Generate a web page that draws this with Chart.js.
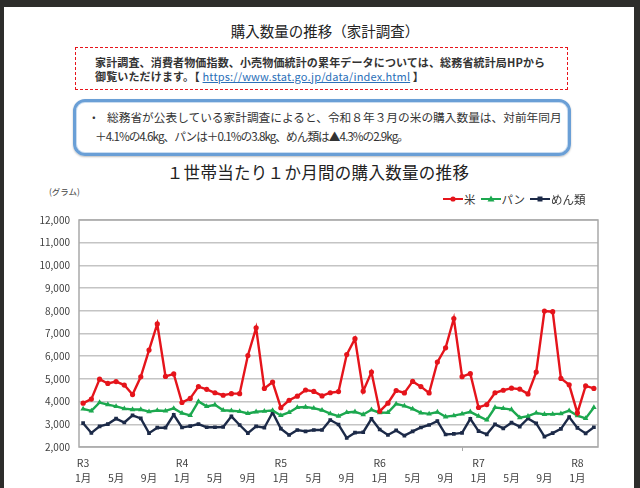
<!DOCTYPE html>
<html lang="ja">
<head>
  <meta charset="UTF-8" />
  <title>購入数量の推移（家計調査）</title>
  <script src="https://cdn.jsdelivr.net/npm/chart.js@4.4.1/dist/chart.umd.min.js"></script>
  <style>
    html, body {
      margin: 0;
      padding: 0;
      background-color: #2d2d2b;
      width: 640px;
      height: 488px;
      overflow: hidden;
      font-family: 'Noto Sans CJK JP', sans-serif;
      color: #222;
    }
    #page {
      position: absolute;
      left: 4px;
      top: 7px;
      width: 630px;
      height: 481px;
      background: #fff;
    }
    .abs { position: absolute; white-space: nowrap; }
    #mainTitle {
      left: 0; width: 650px; top: 21px;
      text-align: center;
      font-size: 14.5px;
      line-height: 20px;
    }
    #noteBox {
      left: 75px; top: 47px; width: 491px; height: 41px;
      border: 1px dashed #e8141b;
    }
    .noteLine {
      font-size: 11px;
      font-weight: 600;
      line-height: 14px;
      color: #333;
      letter-spacing: 0.15px;
    }
    .noteLine a { color: #2a6fb8; font-weight: normal; }
    #summaryBox {
      left: 73px; top: 99px; width: 492px; height: 51px;
      border: 3px solid #6a9fd6;
      border-radius: 12px;
      box-shadow: inset 0 0 0 1px #c9dcf0, 0 1px 2px rgba(0,0,0,0.25);
    }
    .sumLine {
      font-size: 11.7px;
      line-height: 18px;
      color: #333;
    }
    #chartTitle {
      left: 0; width: 636px; top: 161px;
      text-align: center;
      font-size: 16.5px;
      line-height: 22px;
      letter-spacing: 0.3px;
      color: #222;
    }
    #unit {
      left: 49px; top: 185px;
      font-size: 8.5px;
      color: #444;
    }
    #legend {
      left: 443px; top: 191px;
      font-size: 11.5px;
      line-height: 16px;
      color: #333;
      display: flex;
      align-items: center;
    }
    .legItem { display: flex; align-items: center; margin-right: 5px; }
    .legItem canvas { margin-right: 1px; }
    #chart {
      position: absolute;
      left: 0;
      top: 205px;
    }
  </style>
</head>
<body>
  <div id="page"></div>
  <div class="abs" id="mainTitle">購入数量の推移（家計調査）</div>
  <div class="abs" id="noteBox"></div>
  <div class="abs noteLine" style="left:95px; top:55px;">家計調査、消費者物価指数、小売物価統計の累年データについては、総務省統計局HPから</div>
  <div class="abs noteLine" style="left:95px; top:69px;">御覧いただけます。【 <a href="#">https://www.stat.go.jp/data/index.html</a> 】</div>
  <div class="abs" id="summaryBox"></div>
  <div class="abs sumLine" style="left:88px; top:108px;">・</div>
  <div class="abs sumLine" style="left:107px; top:108px;">総務省が公表している家計調査によると、令和８年３月の米の購入数量は、対前年同月</div>
  <div class="abs sumLine" style="left:95px; top:127px; letter-spacing:-1px;">＋4.1%の4.6kg、パンは＋0.1%の3.8kg、めん類は▲4.3%の2.9kg。</div>
  <div class="abs" id="chartTitle">１世帯当たり１か月間の購入数量の推移</div>
  <div class="abs" id="unit">(グラム)</div>
  <div class="abs" id="legend"></div>
  <canvas id="chart" width="640" height="283"></canvas>

  <script>
    // 令和3年1月〜令和8年3月（月次）
    const years = ['R3', 'R4', 'R5', 'R6', 'R7', 'R8'];
    const monthNames = ['1月', '2月', '3月', '4月', '5月', '6月', '7月', '8月', '9月', '10月', '11月', '12月'];
    const shownMonths = ['1月', '5月', '9月'];

    const categories = [];
    years.forEach((y, yi) => {
      const n = yi === years.length - 1 ? 3 : 12;
      for (let m = 0; m < n; m++) categories.push(y + ' ' + monthNames[m]);
    });

    const seriesNames = ['米', 'パン', 'めん類'];
    const rice = [
      3930, 4110, 4990, 4800, 4880, 4730, 4310, 5090, 6270, 7420, 5110, 5220,
      3960, 4140, 4660, 4540, 4390, 4280, 4350, 4350, 6030, 7250, 4580, 4860,
      3730, 4060, 4240, 4510, 4450, 4250, 4390, 4440, 6070, 6770, 4460, 5300,
      3570, 3930, 4490, 4380, 4890, 4660, 4380, 5740, 6370, 7660, 5100, 5230,
      3740, 3870, 4390, 4500, 4590, 4550, 4340, 5300, 7990, 7960, 5020, 4740,
      3500, 4690, 4580
    ];
    const bread = [
      3680, 3590, 3960, 3870, 3790, 3690, 3650, 3650, 3560, 3610, 3590, 3700,
      3490, 3390, 4010, 3790, 3860, 3620, 3600, 3570, 3480, 3550, 3580, 3610,
      3390, 3520, 3740, 3760, 3710, 3620, 3470, 3360, 3520, 3550, 3430, 3640,
      3510, 3520, 3900, 3810, 3680, 3500, 3460, 3540, 3330, 3380, 3460, 3550,
      3360, 3190, 3740, 3700, 3650, 3290, 3360, 3500, 3440, 3450, 3470, 3600,
      3380, 3260, 3740
    ];
    const noodles = [
      3050, 2620, 2910, 3010, 3250, 3080, 3390, 3260, 2610, 2850, 2850, 3420,
      2860, 2920, 3010, 2870, 2870, 2880, 3350, 2970, 2610, 2910, 2850, 3520,
      2810, 2530, 2750, 2690, 2750, 2750, 3190, 2990, 2400, 2630, 2650, 3240,
      2770, 2530, 2730, 2500, 2690, 2860, 2970, 3140, 2550, 2580, 2620, 3240,
      2700, 2560, 3000, 2820, 3070, 2900, 3260, 3040, 2460, 2610, 2800, 3320,
      2840, 2600, 2870
    ];

    const colors = ['#e5141b', '#1ca84f', '#1c2a48'];
    const markers = ['circle', 'triangle', 'rect'];
    const markerSize = [2.6, 3.2, 2.6];

    // Excel風の凡例（線＋マーカー）
    const legendEl = document.getElementById('legend');
    seriesNames.forEach((name, i) => {
      const item = document.createElement('div');
      item.className = 'legItem';
      const c = document.createElement('canvas');
      c.width = 20; c.height = 8;
      const g = c.getContext('2d');
      g.strokeStyle = colors[i];
      g.fillStyle = colors[i];
      g.lineWidth = 2;
      g.beginPath(); g.moveTo(0, 4); g.lineTo(20, 4); g.stroke();
      g.beginPath();
      if (markers[i] === 'circle') g.arc(10, 4, 2.6, 0, Math.PI * 2);
      else if (markers[i] === 'triangle') { g.moveTo(10, 0.5); g.lineTo(13.5, 6.5); g.lineTo(6.5, 6.5); g.closePath(); }
      else g.rect(7.5, 1.5, 5, 5);
      g.fill();
      item.appendChild(c);
      const t = document.createElement('span');
      t.textContent = name;
      item.appendChild(t);
      legendEl.appendChild(item);
    });

    const framePlugin = {
      id: 'frame',
      afterDraw(chart) {
        const a = chart.chartArea;
        const ctx = chart.ctx;
        ctx.save();
        ctx.strokeStyle = '#a9a9a9';
        ctx.lineWidth = 1.5;
        ctx.strokeRect(a.left, a.top, a.right - a.left, a.bottom - a.top);
        ctx.restore();
      }
    };

    const ds = (label, data, i) => ({
      label: label,
      data: data,
      borderColor: colors[i],
      backgroundColor: colors[i],
      borderWidth: 2.4,
      tension: 0,
      pointStyle: markers[i],
      pointRadius: markerSize[i],
      pointBorderWidth: 0,
      pointHoverRadius: markerSize[i],
    });

    new Chart(document.getElementById('chart').getContext('2d'), {
      type: 'line',
      data: {
        labels: categories,
        datasets: [
          ds(seriesNames[0], rice, 0),
          ds(seriesNames[1], bread, 1),
          ds(seriesNames[2], noodles, 2),
        ]
      },
      options: {
        responsive: false,
        animation: false,
        devicePixelRatio: 1,
        layout: { padding: { top: 7, right: 42, left: 0, bottom: 0 } },
        plugins: {
          legend: { display: false },
          tooltip: { enabled: false },
        },
        scales: {
          x: {
            offset: true,
            afterFit(scale) { scale.height = 41; },
            grid: {
              offset: true,
              drawOnChartArea: false,
              tickLength: 4,
              tickColor: (ctx) => (ctx.index % 12 === 0 ? '#a9a9a9' : 'rgba(0,0,0,0)'),
            },
            border: { display: false },
            ticks: {
              autoSkip: false,
              maxRotation: 0,
              padding: 5,
              color: '#404040',
              font: { family: "'Noto Sans CJK JP', sans-serif", size: 10.5, lineHeight: '15px' },
              callback(value, index) {
                const m = monthNames[index % 12];
                if (!shownMonths.includes(m)) return null;
                const yr = m === '1月' ? years[Math.floor(index / 12)] : '';
                return [yr, m];
              }
            }
          },
          y: {
            min: 2000,
            max: 12000,
            afterFit(scale) { scale.width = 79; },
            grid: {
              color: '#c4c4c4',
              lineWidth: 1.5,
              drawTicks: false,
            },
            border: { display: false },
            ticks: {
              stepSize: 1000,
              padding: 9,
              color: '#404040',
              font: { family: "'Noto Sans CJK JP', sans-serif", size: 10 },
              callback: (v) => v.toLocaleString('en-US'),
            }
          }
        }
      },
      plugins: [framePlugin]
    });
  </script>
</body>
</html>
